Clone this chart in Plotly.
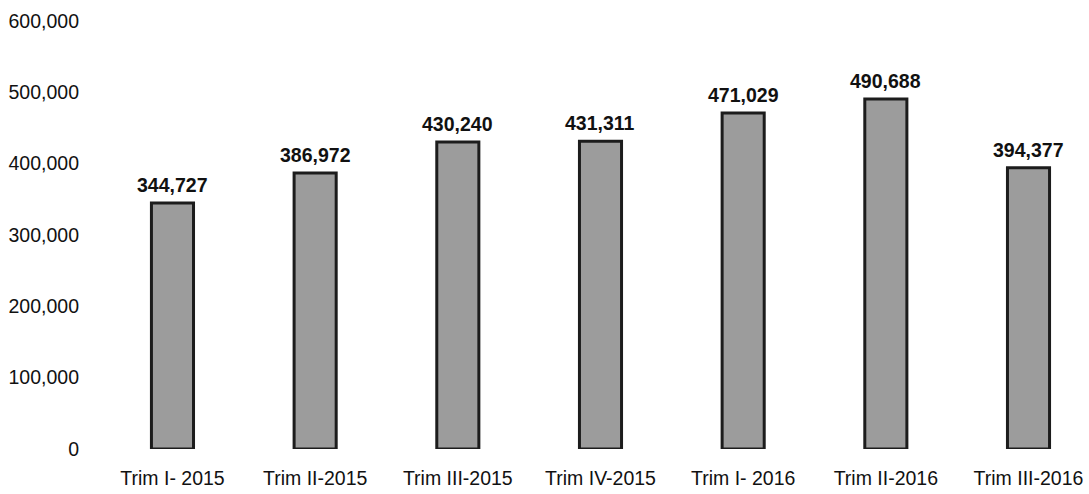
import plotly.graph_objects as go

categories = ["Trim I- 2015", "Trim II-2015", "Trim III-2015", "Trim IV-2015",
              "Trim I- 2016", "Trim II-2016", "Trim III-2016"]
values = [344727, 386972, 430240, 431311, 471029, 490688, 394377]
value_labels = ["344,727", "386,972", "430,240", "431,311", "471,029", "490,688", "394,377"]
y_ticks = [0, 100000, 200000, 300000, 400000, 500000, 600000]
y_tick_labels = ["0", "100,000", "200,000", "300,000", "400,000", "500,000", "600,000"]

FONT = "Liberation Sans Narrow, Arial Narrow, Liberation Sans, Arial, sans-serif"
FS = 19.5

fig = go.Figure()
fig.add_trace(go.Bar(
    x=list(range(len(categories))),
    y=values,
    marker=dict(color="#9c9c9c", line=dict(color="#1c1c1c", width=3)),
    hoverinfo="skip",
))

for i, (v, t) in enumerate(zip(values, value_labels)):
    fig.add_annotation(x=i, y=v, text="<b>" + t + "</b>", showarrow=False,
                       yanchor="bottom", yshift=5,
                       font=dict(family=FONT, size=FS, color="#111111"))

fig.update_layout(
    width=1089, height=494,
    margin=dict(l=100, r=0, t=21, b=45),
    paper_bgcolor="white", plot_bgcolor="white",
    showlegend=False,
    bargap=0.705,
    font=dict(family=FONT, size=FS, color="#111111"),
)
fig.update_xaxes(
    tickmode="array", tickvals=list(range(len(categories))), ticktext=categories,
    range=[-0.508, 6.424], showgrid=False, zeroline=False, showline=False,
    ticks="", ticklabelstandoff=15, automargin=False,
    tickfont=dict(family=FONT, size=FS, color="#111111"),
)
fig.update_yaxes(
    range=[0, 600000], tickmode="array", tickvals=y_ticks, ticktext=y_tick_labels,
    showgrid=False, zeroline=False, showline=False, ticks="",
    ticklabelstandoff=20, automargin=False,
    tickfont=dict(family=FONT, size=FS, color="#111111"),
)

fig.write_html("out.html",
               config={"displayModeBar": False, "staticPlot": True},
               post_script="document.body.style.margin='0';document.body.style.overflow='hidden';")
